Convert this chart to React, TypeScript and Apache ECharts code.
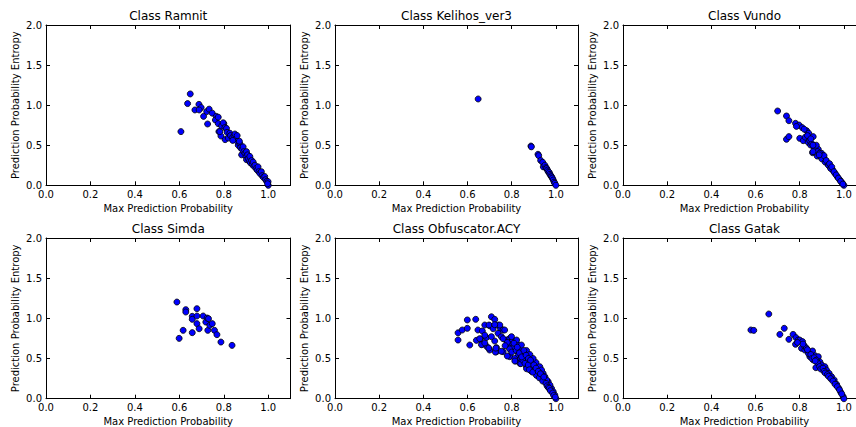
import React, { useEffect, useRef } from "react";
import * as echarts from "echarts";

const titles = ["Class Ramnit", "Class Kelihos_ver3", "Class Vundo", "Class Simda", "Class Obfuscator.ACY", "Class Gatak"];
const xTicks = [0, 0.2, 0.4, 0.6, 0.8, 1.0];
const yTicks = [0, 0.5, 1.0, 1.5, 2.0];

const ramnit = [
  [0.607, 0.67], [0.637, 1.02], [0.649, 1.14], [0.67, 0.94], [0.688, 1.01], [0.698, 0.97], [0.689, 0.94], [0.709, 0.86],
  [0.723, 0.92], [0.734, 0.95], [0.727, 0.765], [0.748, 0.9], [0.766, 0.86], [0.762, 0.815], [0.775, 0.85], [0.778, 0.67],
  [0.787, 0.615], [0.8, 0.77], [0.806, 0.57], [0.775, 0.77], [0.782, 0.67], [0.79, 0.74], [0.797, 0.78], [0.805, 0.72],
  [0.812, 0.71], [0.815, 0.66], [0.82, 0.59], [0.827, 0.65], [0.83, 0.62], [0.84, 0.6], [0.849, 0.61], [0.855, 0.58],
  [0.86, 0.55], [0.865, 0.5], [0.872, 0.52], [0.875, 0.47], [0.88, 0.38], [0.882, 0.45], [0.887, 0.48], [0.89, 0.42],
  [0.895, 0.4], [0.9, 0.36], [0.902, 0.42], [0.902, 0.32], [0.907, 0.38], [0.91, 0.33], [0.915, 0.3], [0.917, 0.36],
  [0.92, 0.28], [0.925, 0.31], [0.928, 0.26], [0.932, 0.29], [0.935, 0.24], [0.94, 0.25], [0.945, 0.21], [0.95, 0.19],
  [0.954, 0.23], [0.958, 0.17], [0.962, 0.15], [0.969, 0.17], [0.972, 0.12], [0.978, 0.1], [0.984, 0.11], [0.988, 0.07],
  [0.993, 0.05], [0.999, 0.045], [1.0, 0.0], [0.997, 0.02], [0.85, 0.64], [0.86, 0.62], [0.87, 0.55], [0.84, 0.56],
];

const kelihos = [
  [0.648, 1.077], [0.887, 0.49], [0.889, 0.48], [0.919, 0.387], [0.922, 0.37], [0.931, 0.31], [0.94, 0.287], [0.943, 0.23],
  [0.95, 0.25], [0.955, 0.22], [0.958, 0.21], [0.962, 0.19], [0.965, 0.17], [0.97, 0.16], [0.973, 0.137], [0.977, 0.12],
  [0.98, 0.107], [0.984, 0.09], [0.988, 0.066], [0.992, 0.04], [0.995, 0.025], [1.0, 0.0],
];

const vundo = [
  [0.7, 0.927], [0.74, 0.865], [0.751, 0.806], [0.74, 0.574], [0.751, 0.607], [0.781, 0.773], [0.797, 0.752], [0.811, 0.72],
  [0.8, 0.586], [0.816, 0.557], [0.831, 0.681], [0.841, 0.649], [0.861, 0.607], [0.838, 0.536], [0.849, 0.503], [0.858, 0.407],
  [0.873, 0.482], [0.884, 0.449], [0.879, 0.365], [0.899, 0.399], [0.906, 0.357], [0.914, 0.316], [0.924, 0.274], [0.937, 0.232],
  [0.949, 0.191], [0.959, 0.15], [0.97, 0.107], [0.982, 0.066], [0.992, 0.032], [1.0, 0.0], [0.825, 0.6], [0.835, 0.62],
  [0.845, 0.56], [0.855, 0.52], [0.865, 0.47], [0.87, 0.44], [0.875, 0.5], [0.88, 0.42], [0.89, 0.4], [0.895, 0.36],
  [0.9, 0.33], [0.91, 0.37], [0.915, 0.29], [0.92, 0.31], [0.93, 0.25], [0.935, 0.27], [0.94, 0.21], [0.945, 0.23],
  [0.955, 0.17], [0.965, 0.13], [0.975, 0.09], [0.985, 0.05], [0.995, 0.015], [0.888, 0.38], [0.86, 0.5], [0.85, 0.58],
  [0.82, 0.7], [0.785, 0.735], [0.86, 0.42],
];

const simda = [
  [0.589, 1.203], [0.599, 0.751], [0.617, 0.851], [0.629, 1.108], [0.629, 1.079], [0.658, 1.025], [0.658, 0.988], [0.658, 0.822],
  [0.679, 1.12], [0.679, 1.029], [0.679, 0.934], [0.689, 0.871], [0.707, 1.029], [0.719, 0.954], [0.725, 1.004], [0.731, 0.996],
  [0.728, 0.851], [0.737, 0.913], [0.748, 0.934], [0.758, 0.851], [0.769, 0.797], [0.787, 0.705], [0.837, 0.664],
];

const obfuscator = [
  [0.557, 0.82], [0.557, 0.73], [0.576, 0.855], [0.599, 0.876], [0.599, 0.98], [0.637, 0.988], [0.61, 0.668], [0.647, 0.855],
  [0.667, 0.843], [0.678, 0.917], [0.7, 0.909], [0.708, 1.02], [0.723, 0.987], [0.658, 0.74], [0.667, 0.677], [0.685, 0.76],
  [0.688, 0.647], [0.7, 0.606], [0.731, 0.635], [0.731, 0.585], [0.723, 0.718], [0.738, 0.917], [0.749, 0.876], [0.761, 0.855],
  [0.738, 0.814], [0.753, 0.772], [0.708, 0.772], [0.761, 0.585], [0.776, 0.73], [0.791, 0.751], [0.803, 0.73], [0.818, 0.71],
  [0.794, 0.668], [0.806, 0.647], [0.829, 0.668], [0.837, 0.606], [0.849, 0.565], [0.791, 0.523], [0.818, 0.469], [0.837, 0.44],
  [0.859, 0.503], [0.87, 0.46], [0.882, 0.42], [0.897, 0.378], [0.912, 0.336], [0.867, 0.398], [0.89, 0.46], [0.867, 0.6],
  [0.91, 0.45], [0.942, 0.316], [0.965, 0.212], [0.98, 0.129], [0.995, 0.046], [1.0, 0.0], [0.882, 0.55], [0.897, 0.5],
  [0.927, 0.398], [0.935, 0.357], [0.95, 0.274], [0.958, 0.233], [0.973, 0.17], [0.988, 0.087], [0.697, 0.917], [0.746, 0.917],
  [0.768, 0.855], [0.799, 0.772], [0.822, 0.73], [0.844, 0.668], [0.806, 0.627], [0.814, 0.503], [0.852, 0.544], [0.867, 0.46],
  [0.89, 0.398], [0.905, 0.357], [0.92, 0.295], [0.64, 0.726], [0.655, 0.747], [0.663, 0.672], [0.678, 0.693], [0.696, 0.63],
  [0.726, 0.58], [0.728, 0.63], [0.753, 0.59], [0.761, 0.747], [0.78, 0.531], [0.814, 0.469], [0.841, 0.436], [0.867, 0.373],
  [0.89, 0.34], [0.912, 0.29], [0.678, 0.79], [0.716, 0.871], [0.723, 0.921], [0.78, 0.7], [0.79, 0.62], [0.8, 0.58],
  [0.82, 0.6], [0.83, 0.55], [0.84, 0.5], [0.85, 0.48], [0.86, 0.44], [0.875, 0.42], [0.88, 0.36], [0.895, 0.33],
  [0.9, 0.42], [0.91, 0.38], [0.92, 0.34], [0.925, 0.26], [0.93, 0.31], [0.94, 0.22], [0.945, 0.27], [0.955, 0.19],
  [0.96, 0.16], [0.965, 0.14], [0.97, 0.13], [0.975, 0.1], [0.985, 0.07], [0.99, 0.04], [0.997, 0.02], [0.77, 0.66],
  [0.81, 0.69], [0.825, 0.64], [0.835, 0.57], [0.845, 0.52], [0.855, 0.6], [0.865, 0.54], [0.875, 0.5], [0.885, 0.48],
];

const gatak = [
  [0.579, 0.855], [0.592, 0.85], [0.66, 1.054], [0.71, 0.8], [0.73, 0.876], [0.751, 0.739], [0.77, 0.8], [0.783, 0.76],
  [0.793, 0.73], [0.781, 0.677], [0.8, 0.73], [0.813, 0.71], [0.808, 0.627], [0.823, 0.606], [0.838, 0.585], [0.858, 0.594],
  [0.846, 0.523], [0.869, 0.535], [0.884, 0.523], [0.873, 0.386], [0.861, 0.482], [0.891, 0.46], [0.899, 0.42], [0.914, 0.398],
  [0.921, 0.357], [0.933, 0.316], [0.944, 0.274], [0.956, 0.233], [0.967, 0.179], [0.977, 0.129], [0.986, 0.08], [0.997, 0.025],
  [1.0, 0.0], [0.82, 0.66], [0.83, 0.63], [0.84, 0.56], [0.85, 0.55], [0.855, 0.5], [0.865, 0.51], [0.875, 0.48],
  [0.88, 0.45], [0.89, 0.4], [0.895, 0.37], [0.905, 0.38], [0.91, 0.34], [0.915, 0.32], [0.925, 0.3], [0.93, 0.28],
  [0.94, 0.25], [0.95, 0.22], [0.96, 0.18], [0.97, 0.15], [0.98, 0.11], [0.99, 0.06], [0.79, 0.7], [0.815, 0.68],
  [0.835, 0.61], [0.87, 0.47],
];

const classData = [ramnit, kelihos, vundo, simda, obfuscator, gatak];

// layout (pixels)
const colLeft = [46, 335, 623];
const colWidth = [244.5, 243, 243];
const rowTop = [25, 238];
const rowHeight = [160.3, 160.7];
const titleY = [16, 229];

const FONT = "DejaVu Sans";

export default function App() {
  const ref = useRef<HTMLDivElement>(null);
  useEffect(() => {
    if (!ref.current) return;
    const chart = echarts.init(ref.current, undefined, { renderer: "svg" });
    const grids: any[] = [];
    const xAxes: any[] = [];
    const yAxes: any[] = [];
    const series: any[] = [];
    const graphics: any[] = [];
    const lineStyle = { color: "#000", width: 1 };
    const tickStyle = { color: "#000", width: 1 };
    const labelStyle = { color: "#000", fontSize: 10, fontFamily: FONT };
    for (let i = 0; i < 6; i++) {
      const r = Math.floor(i / 3);
      const c = i % 3;
      grids.push({
        left: colLeft[c],
        top: rowTop[r],
        width: colWidth[c],
        height: rowHeight[r],
        containLabel: false,
        outerBoundsMode: "none",
      });
      const xBase = {
        type: "value",
        gridIndex: i,
        min: 0,
        max: 1.1,
        interval: 0.2,
        splitLine: { show: false },
        axisLine: { show: true, onZero: false, lineStyle },
        axisTick: { show: true, inside: true, length: 4, lineStyle: tickStyle },
      };
      xAxes.push({
        ...xBase,
        position: "bottom",
        name: "Max Prediction Probability",
        nameLocation: "middle",
        nameGap: 18,
        nameTextStyle: { color: "#000", fontSize: 10, fontFamily: FONT },
        axisLabel: {
          ...labelStyle,
          margin: 4,
          formatter: (v: number) => (xTicks.some((t) => Math.abs(t - v) < 1e-9) ? v.toFixed(1) : ""),
        },
      });
      xAxes.push({ ...xBase, position: "top", axisLabel: { show: false } });
      const yBase = {
        type: "value",
        gridIndex: i,
        min: 0,
        max: 2,
        interval: 0.5,
        splitLine: { show: false },
        axisLine: { show: true, onZero: false, lineStyle },
        axisTick: { show: true, inside: true, length: 4, lineStyle: tickStyle },
      };
      yAxes.push({
        ...yBase,
        position: "left",
        name: "Prediction Probability Entropy",
        nameLocation: "middle",
        nameGap: 26,
        nameTextStyle: { color: "#000", fontSize: 10, fontFamily: FONT },
        axisLabel: {
          ...labelStyle,
          margin: 4,
          formatter: (v: number) => (yTicks.some((t) => Math.abs(t - v) < 1e-9) ? v.toFixed(1) : ""),
        },
      });
      yAxes.push({ ...yBase, position: "right", axisLabel: { show: false } });
      series.push({
        type: "scatter",
        xAxisIndex: 2 * i,
        yAxisIndex: 2 * i,
        data: classData[i],
        symbol: "circle",
        symbolSize: 6,
        itemStyle: { color: "#0000ff", borderColor: "#000", borderWidth: 0.8, opacity: 1 },
        emphasis: { disabled: true },
        silent: true,
      });
      graphics.push({
        type: "text",
        x: colLeft[c] + colWidth[c] / 2,
        y: titleY[r],
        style: {
          text: titles[i],
          fill: "#000",
          fontSize: 12,
          fontFamily: FONT,
          fontWeight: "normal",
          align: "center",
          verticalAlign: "middle",
        },
      });
    }
    chart.setOption({
      animation: false,
      backgroundColor: "#fff",
      grid: grids,
      xAxis: xAxes,
      yAxis: yAxes,
      series,
      graphic: graphics,
    });
    return () => chart.dispose();
  }, []);
  return (
    <div
      ref={ref}
      style={{ position: "absolute", left: 0, top: 0, width: 856, height: 427, overflow: "hidden" }}
    />
  );
}
